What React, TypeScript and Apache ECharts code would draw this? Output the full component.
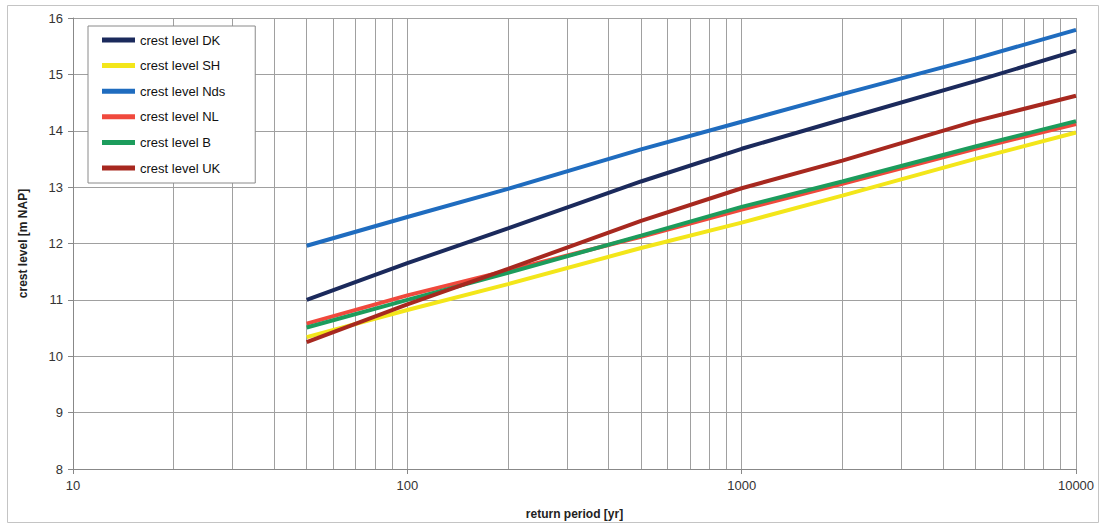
import React, { useEffect, useRef } from "react";
import * as echarts from "echarts";

const returnPeriods = [50, 100, 200, 500, 1000, 2000, 5000, 10000];
const crestDK = [11.0, 11.65, 12.27, 13.1, 13.68, 14.2, 14.88, 15.42];
const crestSH = [10.34, 10.82, 11.28, 11.92, 12.37, 12.85, 13.5, 13.97];
const crestNds = [11.96, 12.47, 12.97, 13.67, 14.16, 14.65, 15.28, 15.79];
const crestNL = [10.58, 11.08, 11.52, 12.12, 12.6, 13.06, 13.68, 14.12];
const crestB = [10.51, 11.0, 11.48, 12.14, 12.65, 13.1, 13.72, 14.17];
const crestUK = [10.25, 10.92, 11.55, 12.4, 12.98, 13.47, 14.17, 14.62];
const minorGridX = [20, 30, 40, 50, 60, 70, 80, 90, 200, 300, 400, 500, 600, 700, 800, 900, 2000, 3000, 4000, 5000, 6000, 7000, 8000, 9000];

const seriesDefs = [
  { name: "crest level DK", values: crestDK, color: "#1b2a5c" },
  { name: "crest level SH", values: crestSH, color: "#f3e61a" },
  { name: "crest level Nds", values: crestNds, color: "#1f6cbf" },
  { name: "crest level NL", values: crestNL, color: "#f0493d" },
  { name: "crest level B", values: crestB, color: "#1c9c5c" },
  { name: "crest level UK", values: crestUK, color: "#a7281f" },
];

export default function App() {
  const ref = useRef<HTMLDivElement>(null);
  useEffect(() => {
    if (!ref.current) return;
    const chart = echarts.init(ref.current, undefined, { renderer: "svg" });
    const gridColor = "#a0a0a0";
    const option: any = {
      animation: false,
      backgroundColor: "#ffffff",
      textStyle: { fontFamily: "Liberation Sans, Arial, sans-serif" },
      grid: { left: 73, right: 32, top: 18, bottom: 55 },
      graphic: [
        {
          type: "rect",
          z: -10,
          silent: true,
          shape: { x: 7.5, y: 5.5, width: 1091, height: 517 },
          style: { fill: "none", stroke: "#c4c4c4", lineWidth: 1 },
        },
      ],
      legend: {
        data: seriesDefs.map((s) => s.name),
        orient: "vertical",
        left: 88,
        top: 26,
        z: 20,
        padding: [6, 30, 7, 14],
        itemWidth: 33,
        itemHeight: 5,
        itemGap: 9.6,
        icon: "rect",
        backgroundColor: "#ffffff",
        borderColor: "#8a8a8a",
        borderWidth: 1,
        textStyle: { fontSize: 13, color: "#111", lineHeight: 16, fontFamily: "Liberation Sans, Arial, sans-serif" },
      },
      xAxis: {
        type: "log",
        logBase: 10,
        min: 10,
        max: 10000,
        name: "return period [yr]",
        nameLocation: "middle",
        nameGap: 39,
        nameTextStyle: { fontWeight: "bold", fontSize: 12, color: "#222" },
        axisLine: { show: true, lineStyle: { color: "#888", width: 1 } },
        axisTick: { show: true, length: 5, lineStyle: { color: "#888" } },
        axisLabel: { fontSize: 13, color: "#333", margin: 10, formatter: (v: number) => String(Math.round(v)) },
        splitLine: { show: true, lineStyle: { color: gridColor, width: 1 } },
      },
      yAxis: {
        type: "value",
        min: 8,
        max: 16,
        interval: 1,
        name: "crest level [m NAP]",
        nameLocation: "middle",
        nameGap: 44,
        nameTextStyle: { fontWeight: "bold", fontSize: 12, color: "#222" },
        axisLine: { show: true, lineStyle: { color: "#888", width: 1 } },
        axisTick: { show: true, length: 5, lineStyle: { color: "#888" } },
        axisLabel: { fontSize: 13, color: "#333", margin: 10 },
        splitLine: { show: true, lineStyle: { color: gridColor, width: 1 } },
      },
      series: [
        {
          name: "grid",
          type: "line",
          data: [[10, 8]],
          showSymbol: false,
          lineStyle: { opacity: 0 },
          silent: true,
          z: 0,
          markLine: {
            silent: true,
            z: 0,
            symbol: ["none", "none"],
            label: { show: false },
            lineStyle: { color: gridColor, width: 1, type: "solid" },
            data: minorGridX.map((v) => ({ xAxis: v })),
          },
        },
        ...seriesDefs.map((s) => ({
          name: s.name,
          type: "line",
          data: returnPeriods.map((p, i) => [p, s.values[i]]),
          showSymbol: false,
          symbol: "none",
          color: s.color,
          lineStyle: { color: s.color, width: 4 },
          z: 3,
        })),
      ],
    };
    chart.setOption(option);
    return () => chart.dispose();
  }, []);
  return <div ref={ref} style={{ position: "absolute", left: 0, top: 0, width: 1108, height: 525 }} />;
}
